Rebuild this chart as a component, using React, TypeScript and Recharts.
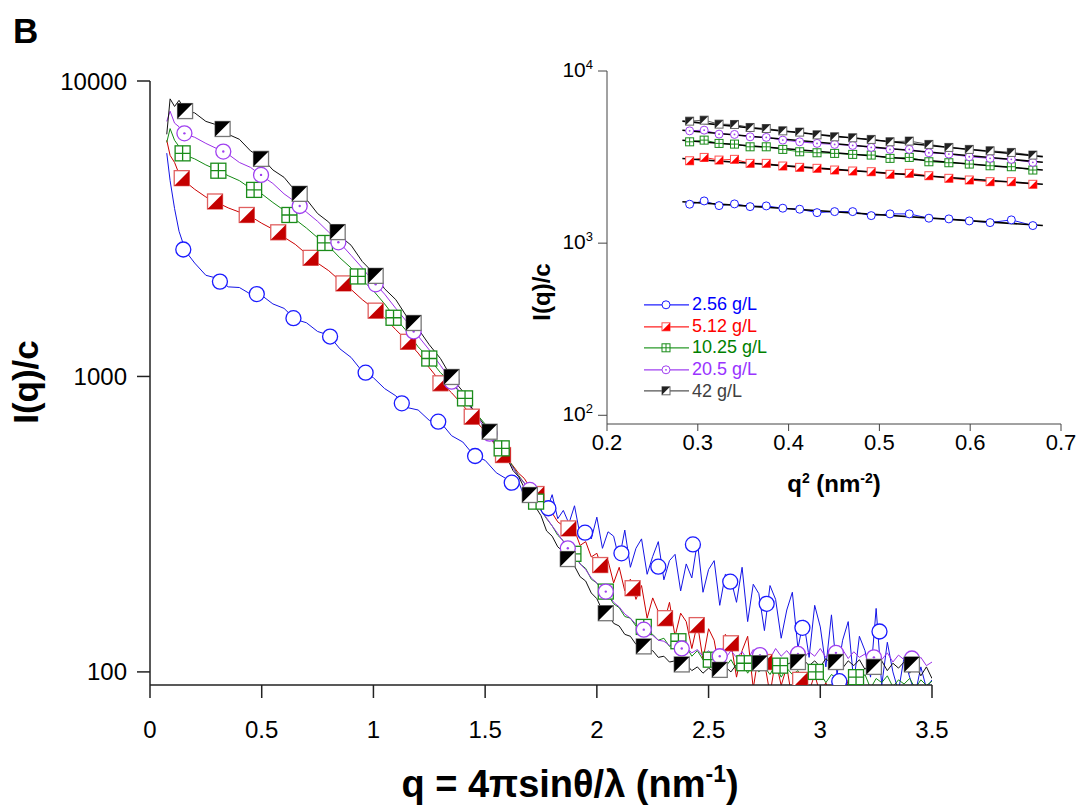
import { ComposedChart, Legend, Line, XAxis, YAxis } from "recharts"

const FONT = "Arial, 'Liberation Sans', Helvetica, sans-serif"

// ---------- main panel: q (nm^-1) and I(q)/c ----------
const qGrid = [
    0.075, 0.09, 0.11, 0.13, 0.16,
    0.2, 0.25, 0.3, 0.35, 0.4, 0.45, 0.5, 0.55, 0.6, 0.65,
    0.7, 0.75, 0.8, 0.85, 0.9, 0.95, 1.0, 1.05, 1.1, 1.15,
    1.2, 1.25, 1.3, 1.35, 1.4, 1.45, 1.5, 1.55,
    1.6, 1.625, 1.65, 1.675, 1.7, 1.725, 1.75, 1.775,
    1.8, 1.825, 1.85, 1.875, 1.9, 1.925, 1.95, 1.975,
    2.0, 2.025, 2.05, 2.075, 2.1, 2.125, 2.15, 2.175,
    2.2, 2.225, 2.25, 2.275, 2.3, 2.325, 2.35, 2.375,
    2.4, 2.425, 2.45, 2.475, 2.5, 2.525, 2.55, 2.575,
    2.6, 2.625, 2.65, 2.675, 2.7, 2.725, 2.75, 2.775,
    2.8, 2.825, 2.85, 2.875, 2.9, 2.925, 2.95, 2.975,
    3.0, 3.025, 3.05, 3.075, 3.1, 3.125, 3.15, 3.175,
    3.2, 3.225, 3.25, 3.275, 3.3, 3.325, 3.35, 3.375,
    3.4, 3.425, 3.45, 3.475, 3.5,
]

const blueI = [
    5700, 4600, 3700, 3100, 2650,
    2420, 2200, 2150, 2010, 2000, 1900, 1880, 1760, 1700, 1560,
    1520, 1420, 1380, 1240, 1160, 1040, 990, 910, 860, 785,
    770, 710, 700, 630, 600, 540, 520, 472,
    448, 425, 440, 392, 428, 380, 372, 352,
    398, 330, 352, 318, 365, 290, 312, 282,
    334, 262, 298, 288, 240, 302, 226, 262,
    282, 214, 246, 276, 205, 238, 250, 188,
    232, 208, 276, 186, 222, 238, 168, 214,
    206, 172, 226, 148, 198, 184, 138, 196,
    176, 130, 162, 186, 120, 150, 112, 168,
    142, 104, 156, 98, 128, 148, 92, 132,
    118, 96, 164, 90, 126, 100, 86, 112,
    96, 84, 104, 88, 94,
]

const redI = [
    6300, 5600, 5300, 4850, 4550,
    4300, 4050, 3880, 3720, 3600, 3480, 3300, 3150, 2960, 2800,
    2600, 2420, 2280, 2110, 1970, 1820, 1700, 1580, 1440, 1320,
    1200, 1070, 960, 880, 800, 720, 650, 580,
    525, 498, 470, 452, 422, 405, 380, 360,
    345, 322, 312, 298, 302, 268, 276, 245,
    252, 222, 238, 200, 226, 188, 206, 176,
    196, 152, 178, 160, 146, 172, 132, 158,
    148, 120, 146, 110, 140, 128, 100, 134,
    126, 96, 118, 132, 88, 116, 108, 84,
    110, 90, 104, 80, 100, 92, 86, 98,
    84, 92, 78, 88, 80, 94, 76, 86,
    80, 74, 88, 72, 82, 76, 70, 84,
    74, 78, 70, 76, 72,
]

const greenI = [
    6200, 6900, 6300, 6000, 5600,
    5450, 5200, 5000, 4780, 4600, 4330, 4150, 3880, 3650, 3400,
    3180, 2950, 2760, 2520, 2330, 2120, 1950, 1760, 1570, 1420,
    1260, 1150, 1030, 950, 860, 765, 690, 600,
    530, 494, 462, 436, 405, 382, 352, 330,
    312, 290, 278, 258, 252, 232, 224, 206,
    200, 188, 182, 170, 165, 154, 152, 143,
    142, 135, 134, 128, 130, 122, 126, 119,
    122, 113, 118, 110, 114, 106, 111, 104,
    110, 102, 108, 99, 106, 100, 104, 98,
    106, 96, 103, 98, 101, 93, 100, 96,
    99, 92, 98, 95, 97, 89, 96, 93,
    98, 88, 95, 92, 97, 89, 94, 91,
    95, 88, 94, 90, 93,
]

const purpleI = [
    7300, 7900, 7200, 7000, 6600,
    6450, 6150, 5900, 5650, 5300, 5100, 4780, 4500, 4150, 3900,
    3600, 3350, 3080, 2830, 2570, 2330, 2090, 1900, 1700, 1530,
    1370, 1230, 1090, 965, 860, 755, 665, 580,
    520, 490, 458, 436, 410, 384, 354, 332,
    312, 294, 276, 258, 248, 232, 222, 208,
    200, 190, 184, 172, 166, 157, 152, 145,
    141, 135, 133, 128, 127, 123, 124, 119,
    121, 116, 119, 113, 118, 112, 116, 111,
    118, 112, 117, 110, 119, 113, 117, 111,
    120, 113, 118, 112, 119, 111, 117, 113,
    120, 112, 118, 114, 119, 111, 117, 112,
    115, 109, 113, 110, 116, 108, 114, 110,
    113, 107, 112, 105, 108,
]

const blackI = [
    6600, 8700, 8200, 8600, 7900,
    7800, 7300, 7100, 6600, 6350, 5800, 5500, 5000, 4720, 4250,
    3980, 3560, 3330, 2990, 2780, 2450, 2240, 1980, 1820, 1590,
    1450, 1280, 1150, 990, 890, 760, 680, 585,
    525, 480, 458, 420, 400, 362, 338, 300,
    288, 265, 255, 236, 228, 210, 203, 185,
    177, 161, 157, 146, 143, 134, 132, 124,
    124, 118, 118, 112, 113, 108, 109, 104,
    106, 101, 104, 99, 103, 100, 102, 104,
    100, 106, 103, 107, 104, 108, 105, 109,
    104, 110, 106, 108, 104, 110, 105, 109,
    104, 111, 106, 108, 103, 109, 105, 110,
    102, 108, 104, 109, 101, 107, 103, 108,
    99, 106, 97, 104, 95,
]

// symbols along each curve
const blueMarkQ = [0.149, 0.313, 0.478, 0.642, 0.806, 0.965, 1.127, 1.29, 1.455, 1.619, 1.783, 1.947, 2.11, 2.275, 2.43, 2.597, 2.76, 2.92, 3.085, 3.265]
const blueMarkI = [2690, 2094, 1900, 1575, 1365, 1030, 811, 703, 538, 437, 358, 296, 252, 227, 270, 202, 170, 141, 93, 137]
const redMarkQ = [0.142, 0.291, 0.433, 0.574, 0.719, 0.866, 1.01, 1.155, 1.3, 1.44, 1.58, 1.73, 1.873, 2.015, 2.16, 2.305, 2.447, 2.6, 2.75, 2.91]
const redMarkI = [4690, 3910, 3520, 3075, 2520, 2065, 1670, 1310, 948, 731, 542, 400, 306, 230, 192, 152, 144, 125, 108, 94]
const greenMarkQ = [0.146, 0.306, 0.466, 0.624, 0.783, 0.93, 1.09, 1.25, 1.41, 1.574, 1.728, 1.895, 2.04, 2.21, 2.365, 2.51, 2.66, 2.82, 2.98, 3.16]
const greenMarkI = [5690, 4970, 4280, 3520, 2830, 2180, 1580, 1150, 843, 571, 377, 251, 187, 142, 127, 110, 107, 105, 100, 96]
const purpleMarkQ = [0.154, 0.328, 0.497, 0.67, 0.843, 1.01, 1.18, 1.35, 1.52, 1.7, 1.87, 2.04, 2.21, 2.38, 2.55, 2.73, 2.9, 3.07, 3.24, 3.41]
const purpleMarkI = [6650, 5770, 4810, 3775, 2845, 2050, 1420, 960, 640, 413, 262, 187, 139, 120, 113, 114, 115, 116, 112, 111]
const blackMarkQ = [0.157, 0.325, 0.497, 0.67, 0.84, 1.01, 1.18, 1.35, 1.52, 1.7, 1.87, 2.04, 2.21, 2.38, 2.55, 2.73, 2.9, 3.07, 3.24, 3.41]
const blackMarkI = [7910, 6880, 5450, 4150, 3080, 2190, 1517, 996, 650, 397, 241, 158, 122, 106, 101.6, 107, 108, 108, 104, 106]

// ---------- inset: Guinier region, q^2 (nm^-2) ----------
const insetQ2 = [0.291, 0.307, 0.3234, 0.3404, 0.3576, 0.3754, 0.3936, 0.4122, 0.4313, 0.4507, 0.4706, 0.491, 0.5117, 0.5329, 0.5545, 0.5765, 0.599, 0.6219, 0.6453, 0.669]
const blueIn = [1683, 1759, 1652, 1690, 1630, 1645, 1596, 1574, 1504, 1525, 1525, 1445, 1479, 1479, 1396, 1383, 1346, 1316, 1365, 1265]
const redIn = [3010, 3148, 3038, 3067, 2907, 2907, 2805, 2756, 2720, 2659, 2624, 2600, 2511, 2545, 2464, 2380, 2327, 2275, 2275, 2197]
const greenIn = [3878, 3967, 3796, 3761, 3628, 3628, 3504, 3394, 3350, 3322, 3278, 3248, 3108, 3148, 2970, 2931, 2880, 2815, 2779, 2659]
const purpleIn = [4491, 4533, 4298, 4281, 4147, 4114, 3967, 3878, 3796, 3746, 3696, 3599, 3504, 3504, 3350, 3292, 3175, 3108, 3067, 2946]
const blackIn = [5113, 5181, 4912, 4891, 4699, 4634, 4491, 4416, 4256, 4147, 4093, 4005, 3882, 3917, 3746, 3598, 3504, 3439, 3365, 3248]

// Guinier fits, end points
const fitQ2 = [0.283, 0.68]
const blueFit = [1741, 1265]
const redFit = [3105, 2198]
const greenFit = [3963, 2660]
const purpleFit = [4530, 2950]
const blackFit = [5112, 3180]

const seriesNames = ["2.56 g/L", "5.12 g/L", "10.25 g/L", "20.5 g/L", "42 g/L"]

const mainXTicks = [0, 0.5, 1, 1.5, 2, 2.5, 3, 3.5]
const mainYTicks = [100, 1000, 10000]
const insetXTicks = [0.2, 0.3, 0.4, 0.5, 0.6, 0.7]
const insetYTicks = [100, 1000, 10000]

type MarkerKind = "circle" | "halfLow" | "grid" | "dotCircle" | "halfHigh"
type SeriesStyle = { line: string; edge: string; fill: string; kind: MarkerKind; text: string }

const MAIN_STYLE: SeriesStyle[] = [
    { line: "#1414e6", edge: "#1a1aff", fill: "#fff", kind: "circle", text: "#0000ff" },
    { line: "#cc0000", edge: "#e06060", fill: "#c40000", kind: "halfLow", text: "#ff0000" },
    { line: "#138a13", edge: "#1a8c1a", fill: "#fff", kind: "grid", text: "#008000" },
    { line: "#9b30e8", edge: "#a040f0", fill: "#a040f0", kind: "dotCircle", text: "#9933ff" },
    { line: "#111111", edge: "#777777", fill: "#000", kind: "halfHigh", text: "#404040" },
]

const INSET_STYLE: SeriesStyle[] = [
    { line: "#2020ff", edge: "#1a1aff", fill: "#fff", kind: "circle", text: "#0000ff" },
    { line: "#ff2020", edge: "#ff5050", fill: "#ff0000", kind: "halfLow", text: "#ff0000" },
    { line: "#2a9a2a", edge: "#1a8c1a", fill: "#fff", kind: "grid", text: "#008000" },
    { line: "#a040f0", edge: "#a040f0", fill: "#a040f0", kind: "dotCircle", text: "#9933ff" },
    { line: "#555555", edge: "#666666", fill: "#222", kind: "halfHigh", text: "#404040" },
]

const mainLines = [blueI, redI, greenI, purpleI, blackI]
const mainMarkQ = [blueMarkQ, redMarkQ, greenMarkQ, purpleMarkQ, blackMarkQ]
const mainMarkI = [blueMarkI, redMarkI, greenMarkI, purpleMarkI, blackMarkI]
const insetVals = [blueIn, redIn, greenIn, purpleIn, blackIn]
const insetFits = [blueFit, redFit, greenFit, purpleFit, blackFit]

const toPoints = (qs: number[], vs: number[]) => qs.map((q, i) => ({ q, v: vs[i] }))

function drawMarker(st: SeriesStyle, cx: number, cy: number, size: number, key: string) {
    const h = size / 2
    const sw = size > 10 ? 1.3 : 1
    if (cx == null || cy == null || isNaN(cx) || isNaN(cy)) return <g key={key} />
    switch (st.kind) {
        case "circle":
            return <circle key={key} cx={cx} cy={cy} r={h} fill="#fff" stroke={st.edge} strokeWidth={sw} />
        case "dotCircle":
            return (
                <g key={key}>
                    <circle cx={cx} cy={cy} r={h} fill="#fff" stroke={st.edge} strokeWidth={sw} />
                    <circle cx={cx} cy={cy} r={size > 10 ? 1.2 : 0.9} fill={st.fill} />
                </g>
            )
        case "grid":
            return (
                <g key={key}>
                    <rect x={cx - h} y={cy - h} width={size} height={size} fill="#fff" stroke={st.edge} strokeWidth={sw} />
                    <path d={`M${cx} ${cy - h}V${cy + h}M${cx - h} ${cy}H${cx + h}`} stroke={st.edge} strokeWidth={sw} />
                </g>
            )
        case "halfLow":
            return (
                <g key={key}>
                    <rect x={cx - h} y={cy - h} width={size} height={size} fill="#fff" stroke={st.edge} strokeWidth={sw} />
                    <polygon points={`${cx + h},${cy - h} ${cx + h},${cy + h} ${cx - h},${cy + h}`} fill={st.fill} />
                </g>
            )
        default:
            return (
                <g key={key}>
                    <rect x={cx - h} y={cy - h} width={size} height={size} fill="#fff" stroke={st.edge} strokeWidth={sw} />
                    <polygon points={`${cx - h},${cy - h} ${cx + h},${cy - h} ${cx - h},${cy + h}`} fill={st.fill} />
                </g>
            )
    }
}

const PowerTick = ({ x, y, payload }: any) => {
    const exp = Math.round(Math.log10(payload.value))
    return (
        <text x={x} y={y} dy={6} textAnchor="end" fontSize={21} fontFamily={FONT} fill="#000">
            10<tspan dy={-8} fontSize={13}>{exp}</tspan>
        </text>
    )
}

const InsetLegend = () => (
    <div style={{ fontFamily: FONT }}>
        {seriesNames.map((name, i) => (
            <div key={name} style={{ display: "flex", alignItems: "center", height: 21.6 }}>
                <svg width={48} height={21.6} style={{ display: "block" }}>
                    <line x1={1} x2={46} y1={10.8} y2={10.8} stroke={INSET_STYLE[i].line} strokeWidth={1.3} />
                    {drawMarker(INSET_STYLE[i], 23, 10.8, 8, "lg" + i)}
                </svg>
                <span style={{ fontSize: 18, color: INSET_STYLE[i].text, marginLeft: 1, lineHeight: "21px" }}>{name}</span>
            </div>
        ))}
    </div>
)

export default function App() {
    const axisStroke = "#222"
    return (
        <div style={{ position: "relative", width: 1079, height: 799, fontFamily: FONT }}>
            <div style={{ position: "absolute", left: 0, top: 0 }}>
                <ComposedChart width={1079} height={799} margin={{ top: 73, right: 155, bottom: 62, left: 42 }}>
                    <XAxis
                        type="number"
                        dataKey="q"
                        domain={[0, 3.5]}
                        ticks={mainXTicks}
                        allowDataOverflow
                        height={60}
                        tickSize={13}
                        tickMargin={23}
                        stroke={axisStroke}
                        strokeWidth={1.5}
                        tick={{ fontSize: 24, fill: "#000", fontFamily: FONT }}
                        tickFormatter={(v: number) => String(v)}
                    />
                    <YAxis
                        type="number"
                        scale="log"
                        domain={[90.3, 10000]}
                        ticks={mainYTicks}
                        allowDataOverflow
                        width={100}
                        tickSize={13}
                        tickMargin={10}
                        stroke={axisStroke}
                        strokeWidth={1.5}
                        tick={{ fontSize: 24, fill: "#000", fontFamily: FONT }}
                        tickFormatter={(v: number) => String(v)}
                    />
                    {MAIN_STYLE.map((st, i) => (
                        <Line
                            key={"l" + i}
                            data={toPoints(qGrid, mainLines[i])}
                            dataKey="v"
                            type="linear"
                            stroke={st.line}
                            strokeWidth={1}
                            dot={false}
                            activeDot={false}
                            isAnimationActive={false}
                        />
                    ))}
                    {MAIN_STYLE.map((st, i) => (
                        <Line
                            key={"m" + i}
                            data={toPoints(mainMarkQ[i], mainMarkI[i])}
                            dataKey="v"
                            stroke="none"
                            dot={(p: any) => drawMarker(st, p.cx, p.cy, 15, `mk${i}-${p.index}`)}
                            activeDot={false}
                            isAnimationActive={false}
                        />
                    ))}
                </ComposedChart>
            </div>

            <div style={{ position: "absolute", left: 512, top: 32 }}>
                <ComposedChart width={560} height={480} margin={{ top: 31, right: 19, bottom: 66, left: 27 }}>
                    <XAxis
                        type="number"
                        dataKey="q"
                        domain={[0.2, 0.7]}
                        ticks={insetXTicks}
                        allowDataOverflow
                        height={30}
                        tickSize={7}
                        tickMargin={3}
                        stroke="#444"
                        tick={{ fontSize: 22, fill: "#000", fontFamily: FONT }}
                        tickFormatter={(v: number) => v.toFixed(1)}
                    />
                    <YAxis
                        type="number"
                        scale="log"
                        domain={[89, 10000]}
                        ticks={insetYTicks}
                        allowDataOverflow
                        width={60}
                        tickSize={9}
                        tickMargin={5}
                        stroke="#444"
                        tick={<PowerTick />}
                    />
                    <Legend
                        layout="horizontal"
                        verticalAlign="middle"
                        align="center"
                        wrapperStyle={{ left: 123, top: 254, width: 170 }}
                        content={() => <InsetLegend />}
                    />
                    {INSET_STYLE.map((st, i) => (
                        <Line
                            key={"il" + i}
                            data={toPoints(insetQ2, insetVals[i])}
                            dataKey="v"
                            stroke={st.line}
                            strokeWidth={1}
                            dot={false}
                            activeDot={false}
                            isAnimationActive={false}
                        />
                    ))}
                    {INSET_STYLE.map((st, i) => (
                        <Line
                            key={"if" + i}
                            data={toPoints(fitQ2, insetFits[i])}
                            dataKey="v"
                            stroke="#000"
                            strokeWidth={1.6}
                            dot={false}
                            activeDot={false}
                            isAnimationActive={false}
                        />
                    ))}
                    {INSET_STYLE.map((st, i) => (
                        <Line
                            key={"im" + i}
                            data={toPoints(insetQ2, insetVals[i])}
                            dataKey="v"
                            stroke="none"
                            dot={(p: any) => drawMarker(st, p.cx, p.cy, 8, `imk${i}-${p.index}`)}
                            activeDot={false}
                            isAnimationActive={false}
                        />
                    ))}
                </ComposedChart>
            </div>

            <svg
                width={1079}
                height={799}
                style={{ position: "absolute", left: 0, top: 0, pointerEvents: "none", overflow: "visible" }}
            >
                <text x={5} y={35} fontSize={35} fontWeight="bold" fontFamily={FONT}>B</text>
                <text
                    transform="translate(30,374) rotate(-90)"
                    textAnchor="middle"
                    fontSize={35}
                    fontWeight="bold"
                    fontFamily={FONT}
                >
                    I(q)/c
                </text>
                <text x={562} y={789} textAnchor="middle" fontSize={38} fontWeight="bold" fontFamily={FONT}>
                    q = 4πsinθ/λ (nm<tspan dy={-15} fontSize={23}>-1</tspan><tspan dy={15}>)</tspan>
                </text>
                <text
                    transform="translate(542,284) rotate(-90)"
                    textAnchor="middle"
                    fontSize={24}
                    fontWeight="bold"
                    fontFamily={FONT}
                >
                    I(q)/c
                </text>
                <text x={826} y={484} textAnchor="middle" fontSize={24} fontWeight="bold" fontFamily={FONT}>
                    q<tspan dy={-9} fontSize={14}>2</tspan><tspan dy={9}> (nm</tspan><tspan dy={-9} fontSize={14}>-2</tspan><tspan dy={9}>)</tspan>
                </text>
            </svg>
        </div>
    )
}
